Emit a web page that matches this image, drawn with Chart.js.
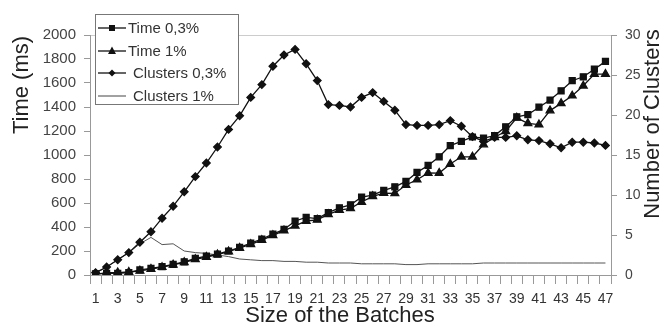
<!DOCTYPE html>
<html>
<head>
<meta charset="utf-8">
<script src="https://cdn.jsdelivr.net/npm/chart.js@4.4.0/dist/chart.umd.min.js"></script>
<style>
  html, body { margin: 0; padding: 0; background: #fff; }
</style>
</head>
<body>
<canvas id="myChart" width="664" height="327"></canvas>
<script>
// x categories: size of the batches
const batchSizes = [];
for (let i = 1; i <= 47; i++) batchSizes.push(String(i));

// time in ms (left axis)
const time03 = [10, 14, 14, 19, 42, 55, 69, 89, 110, 139, 158, 174, 200, 230, 265, 300,
  340, 380, 450, 480, 470, 520, 560, 585, 650, 665, 705, 735, 780, 855, 913, 985,
  1079, 1113, 1150, 1140, 1162, 1235, 1318, 1336, 1398, 1458, 1535, 1619, 1652, 1715, 1780];
const time1 = [5, 20, 20, 25, 35, 50, 65, 85, 105, 130, 150, 170, 195, 225, 255, 290,
  330, 370, 410, 450, 460, 505, 540, 555, 608, 655, 683, 680, 750, 794, 850, 849,
  925, 985, 985, 1087, 1148, 1198, 1309, 1264, 1253, 1370, 1430, 1494, 1577, 1674, 1674];

// number of clusters (right axis)
const clusters03 = [0.3, 1.0, 1.9, 2.8, 4.1, 5.4, 7.1, 8.6, 10.4, 12.3, 14.0, 16.0, 18.2, 19.9,
  22.2, 23.8, 26.1, 27.5, 28.2, 26.4, 24.3, 21.3, 21.2, 21.0, 22.2, 22.8, 21.7, 20.6, 18.8,
  18.7, 18.7, 18.8, 19.3, 18.6, 17.3, 16.7, 17.2, 17.2, 17.4, 16.9, 16.8, 16.4, 15.9, 16.6,
  16.6, 16.5, 16.2];
const clusters1 = [0.2, 1.0, 1.9, 2.8, 3.9, 4.7, 3.8, 3.9, 3.0, 2.8, 2.7, 2.5, 2.3, 2.0, 1.9,
  1.8, 1.8, 1.7, 1.7, 1.6, 1.6, 1.5, 1.5, 1.5, 1.4, 1.4, 1.4, 1.4, 1.3, 1.3, 1.4, 1.4, 1.4,
  1.4, 1.4, 1.5, 1.5, 1.5, 1.5, 1.5, 1.5, 1.5, 1.5, 1.5, 1.5, 1.5, 1.5];

const legendLabels = ['Time 0,3%', 'Time 1%', 'Clusters 0,3%', 'Clusters 1%'];
const leftTitle = 'Time (ms)';
const rightTitle = 'Number of Clusters';
const bottomTitle = 'Size of the Batches';

Chart.defaults.font.family = '"Liberation Sans", Arial, sans-serif';

function marker(ctx, style, x, y) {
  ctx.beginPath();
  if (style === 'rect') {
    ctx.rect(x - 3, y - 3, 6, 6);
  } else if (style === 'triangle') {
    ctx.moveTo(x, y - 4.5);
    ctx.lineTo(x + 4, y + 3);
    ctx.lineTo(x - 4, y + 3);
    ctx.closePath();
  } else if (style === 'rectRot') {
    ctx.moveTo(x, y - 3.5);
    ctx.lineTo(x + 3.5, y);
    ctx.lineTo(x, y + 3.5);
    ctx.lineTo(x - 3.5, y);
    ctx.closePath();
  } else {
    return;
  }
  ctx.fill();
}

// legend box and axis titles drawn over the chart
const overlay = {
  id: 'overlay',
  afterDraw(chart) {
    const ctx = chart.ctx;
    ctx.save();
    // legend
    ctx.fillStyle = '#fff';
    ctx.fillRect(95, 14, 143, 90);
    ctx.strokeStyle = '#777';
    ctx.lineWidth = 1;
    ctx.strokeRect(95.5, 14.5, 143, 90);
    const rows = [28, 51, 73, 96];
    const styles = ['rect', 'triangle', 'rectRot', 'none'];
    const textX = [128, 128, 133, 133];
    ctx.font = '15px "Liberation Sans", Arial, sans-serif';
    ctx.textBaseline = 'middle';
    for (let i = 0; i < 4; i++) {
      const y = rows[i];
      ctx.strokeStyle = i === 3 ? '#444' : '#111';
      ctx.lineWidth = i === 3 ? 1 : 1.3;
      ctx.beginPath();
      ctx.moveTo(98, y);
      ctx.lineTo(126, y);
      ctx.stroke();
      ctx.fillStyle = '#111';
      marker(ctx, styles[i], 112, y);
      ctx.fillStyle = '#333';
      ctx.textAlign = 'left';
      ctx.fillText(legendLabels[i], textX[i], y + 1);
    }
    // axis titles
    ctx.fillStyle = '#222';
    ctx.font = '22px "Liberation Sans", Arial, sans-serif';
    ctx.textAlign = 'center';
    ctx.textBaseline = 'middle';
    ctx.fillText(bottomTitle, 340, 316);
    ctx.translate(22, 85);
    ctx.rotate(-Math.PI / 2);
    ctx.fillText(leftTitle, 0, 0);
    ctx.restore();
    ctx.save();
    ctx.fillStyle = '#222';
    ctx.font = '22px "Liberation Sans", Arial, sans-serif';
    ctx.textAlign = 'center';
    ctx.textBaseline = 'middle';
    ctx.translate(653, 124);
    ctx.rotate(-Math.PI / 2);
    ctx.fillText(rightTitle, 0, 0);
    ctx.restore();
  }
};

const ctx = document.getElementById('myChart').getContext('2d');

const data = {
  labels: batchSizes,
  datasets: [
    {
      label: legendLabels[0], data: time03, yAxisID: 'y',
      borderColor: '#111', backgroundColor: '#111', borderWidth: 1.3,
      pointStyle: 'rect', pointRadius: 4.2, tension: 0
    },
    {
      label: legendLabels[1], data: time1, yAxisID: 'y',
      borderColor: '#111', backgroundColor: '#111', borderWidth: 1.3,
      pointStyle: 'triangle', pointRadius: 4.5, tension: 0
    },
    {
      label: legendLabels[2], data: clusters03, yAxisID: 'y1',
      borderColor: '#111', backgroundColor: '#111', borderWidth: 1.3,
      pointStyle: 'rectRot', pointRadius: 3.8, tension: 0
    },
    {
      label: legendLabels[3], data: clusters1, yAxisID: 'y1',
      borderColor: '#555', backgroundColor: '#555', borderWidth: 1,
      pointRadius: 0, tension: 0
    }
  ]
};

const config = {
  type: 'line',
  data: data,
  plugins: [overlay],
  options: {
    responsive: false,
    animation: false,
    devicePixelRatio: 1,
    layout: { padding: { top: 35, right: 0, left: 0, bottom: 0 } },
    plugins: {
      legend: { display: false },
      tooltip: { enabled: false }
    },
    scales: {
      x: {
        type: 'category',
        offset: true,
        afterFit(scale) { scale.height = 52; },
        border: { color: '#999' },
        grid: {
          offset: true, drawOnChartArea: false,
          tickLength: 9, tickColor: '#999'
        },
        ticks: {
          autoSkip: false, maxRotation: 0, minRotation: 0,
          color: '#333', font: { size: 14 }, padding: 7,
          callback(val, idx) { return idx % 2 === 0 ? this.getLabelForValue(val) : ''; }
        }
      },
      y: {
        position: 'left',
        min: 0, max: 2000,
        afterFit(scale) { scale.width = 90; },
        border: { color: '#999' },
        grid: {
          color: c => c.tick.value === 2000 ? '#ccc' : 'rgba(0,0,0,0)',
          tickColor: '#999', tickLength: 6
        },
        ticks: { stepSize: 200, color: '#444', font: { size: 15 }, padding: 8,
          callback: v => String(v) }
      },
      y1: {
        position: 'right',
        min: 0, max: 30,
        afterFit(scale) { scale.width = 53; },
        border: { color: '#999' },
        grid: { drawOnChartArea: false, tickColor: '#999', tickLength: 6 },
        ticks: { stepSize: 5, color: '#444', font: { size: 14 }, padding: 8,
          callback: v => String(v) }
      }
    }
  }
};

const myChart = new Chart(ctx, config);
</script>
</body>
</html>
